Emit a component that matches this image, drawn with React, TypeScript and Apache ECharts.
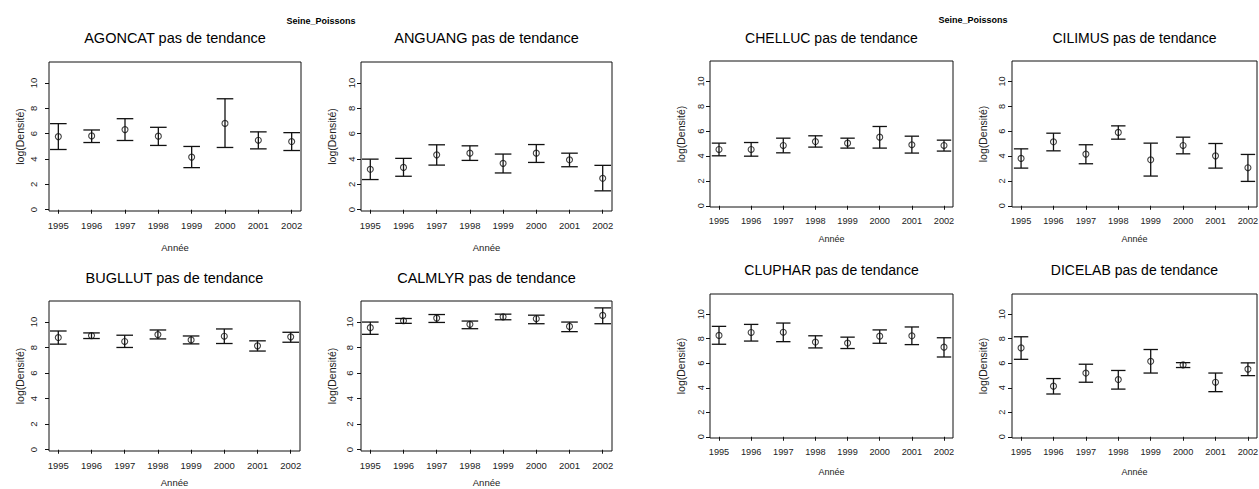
import { useEffect, useRef } from "react";
import * as echarts from "echarts";

// Survey years and y-axis ticks shared by every panel
const YEARS = [1995, 1996, 1997, 1998, 1999, 2000, 2001, 2002];
const Y_TICKS = [0, 2, 4, 6, 8, 10];
const SUPTITLE = "Seine_Poissons";
const TREND = "pas de tendance";
const X_NAME = "Année";
const Y_NAME = "log(Densité)";

// Mean log density with lower / upper interval bounds, per species
const AGONCAT_MEAN = [5.77, 5.82, 6.32, 5.8, 4.15, 6.81, 5.48, 5.38];
const AGONCAT_LOW = [4.75, 5.3, 5.46, 5.07, 3.32, 4.91, 4.8, 4.67];
const AGONCAT_HIGH = [6.79, 6.29, 7.18, 6.5, 4.99, 8.75, 6.14, 6.08];

const ANGUANG_MEAN = [3.19, 3.34, 4.33, 4.46, 3.66, 4.46, 3.94, 2.48];
const ANGUANG_LOW = [2.38, 2.64, 3.52, 3.89, 2.9, 3.73, 3.39, 1.49];
const ANGUANG_HIGH = [3.99, 4.05, 5.12, 5.04, 4.39, 5.14, 4.46, 3.5];

const BUGLLUT_MEAN = [8.79, 8.94, 8.48, 9.02, 8.6, 8.89, 8.14, 8.84];
const BUGLLUT_LOW = [8.27, 8.71, 8.01, 8.68, 8.29, 8.32, 7.73, 8.42];
const BUGLLUT_HIGH = [9.3, 9.15, 8.97, 9.38, 8.91, 9.46, 8.53, 9.2];

const CALMLYR_MEAN = [9.56, 10.1, 10.31, 9.82, 10.41, 10.26, 9.66, 10.52];
const CALMLYR_LOW = [9.04, 9.9, 9.97, 9.48, 10.18, 9.87, 9.25, 9.87];
const CALMLYR_HIGH = [10.0, 10.28, 10.59, 10.08, 10.62, 10.54, 10.0, 11.11];

const CHELLUC_MEAN = [4.53, 4.53, 4.85, 5.17, 5.04, 5.52, 4.91, 4.85];
const CHELLUC_LOW = [4.02, 3.99, 4.26, 4.72, 4.64, 4.64, 4.24, 4.4];
const CHELLUC_HIGH = [5.04, 5.09, 5.44, 5.63, 5.44, 6.38, 5.6, 5.28];

const CILIMUS_MEAN = [3.81, 5.15, 4.16, 5.9, 3.7, 4.85, 4.02, 3.06];
const CILIMUS_LOW = [3.03, 4.42, 3.38, 5.36, 2.39, 4.18, 3.03, 1.96];
const CILIMUS_HIGH = [4.58, 5.84, 4.91, 6.43, 5.04, 5.52, 5.01, 4.13];

const CLUPHAR_MEAN = [8.27, 8.51, 8.53, 7.73, 7.65, 8.21, 8.24, 7.31];
const CLUPHAR_LOW = [7.55, 7.81, 7.76, 7.25, 7.2, 7.63, 7.52, 6.51];
const CLUPHAR_HIGH = [9.01, 9.17, 9.28, 8.24, 8.13, 8.72, 8.96, 8.08];

const DICELAB_MEAN = [7.25, 4.13, 5.2, 4.67, 6.16, 5.87, 4.45, 5.52];
const DICELAB_LOW = [6.32, 3.49, 4.45, 3.89, 5.2, 5.65, 3.68, 4.99];
const DICELAB_HIGH = [8.16, 4.75, 5.92, 5.41, 7.12, 6.05, 5.2, 6.03];

const SPECIES = [
  { code: "AGONCAT", mean: AGONCAT_MEAN, low: AGONCAT_LOW, high: AGONCAT_HIGH },
  { code: "ANGUANG", mean: ANGUANG_MEAN, low: ANGUANG_LOW, high: ANGUANG_HIGH },
  { code: "BUGLLUT", mean: BUGLLUT_MEAN, low: BUGLLUT_LOW, high: BUGLLUT_HIGH },
  { code: "CALMLYR", mean: CALMLYR_MEAN, low: CALMLYR_LOW, high: CALMLYR_HIGH },
  { code: "CHELLUC", mean: CHELLUC_MEAN, low: CHELLUC_LOW, high: CHELLUC_HIGH },
  { code: "CILIMUS", mean: CILIMUS_MEAN, low: CILIMUS_LOW, high: CILIMUS_HIGH },
  { code: "CLUPHAR", mean: CLUPHAR_MEAN, low: CLUPHAR_LOW, high: CLUPHAR_HIGH },
  { code: "DICELAB", mean: DICELAB_MEAN, low: DICELAB_LOW, high: DICELAB_HIGH },
];

// Panel boxes and text tuning (two 2x2 sheets side by side)
const LEFT_SHEET = { title: 14.5, tick: 9.5, xName: 9.5, yName: 10.5, cap: 8.3 };
const RIGHT_SHEET = { title: 14, tick: 9.2, xName: 9, yName: 10.5, cap: 7.2 };
const PANEL_LAYOUT = [
  { left: 49, top: 62, width: 252, height: 149, labelMargin: 11, xNameGap: 31, titleY: 38, sheet: LEFT_SHEET },
  { left: 361, top: 62, width: 251, height: 149, labelMargin: 5, xNameGap: 31, titleY: 38, sheet: LEFT_SHEET },
  { left: 49, top: 301, width: 251, height: 150, labelMargin: 11, xNameGap: 26, titleY: 278, sheet: LEFT_SHEET },
  { left: 361, top: 301, width: 251, height: 150, labelMargin: 7, xNameGap: 26, titleY: 278, sheet: LEFT_SHEET },
  { left: 710, top: 61, width: 243, height: 146, labelMargin: 5, xNameGap: 27, titleY: 38, sheet: RIGHT_SHEET },
  { left: 1012, top: 61, width: 245, height: 146, labelMargin: 6, xNameGap: 27, titleY: 38, sheet: RIGHT_SHEET },
  { left: 710, top: 294, width: 243, height: 144, labelMargin: 5, xNameGap: 29, titleY: 270, sheet: RIGHT_SHEET },
  { left: 1012, top: 294, width: 245, height: 144, labelMargin: 6, xNameGap: 29, titleY: 270, sheet: RIGHT_SHEET },
];
const SUPTITLE_POS = [
  { x: 321, y: 21 },
  { x: 973, y: 20 },
];

const FONT = "'Liberation Sans', Arial, Helvetica, sans-serif";
const INK = "#111";

function buildOption() {
  const grid: any[] = [];
  const xAxis: any[] = [];
  const yAxis: any[] = [];
  const series: any[] = [];
  const graphic: any[] = [];

  SPECIES.forEach((sp, i) => {
    const L = PANEL_LAYOUT[i];
    const S = L.sheet;
    grid.push({
      left: L.left,
      top: L.top,
      width: L.width,
      height: L.height,
      show: true,
      borderColor: INK,
      borderWidth: 1,
      backgroundColor: "transparent",
      containLabel: false,
      outerBoundsMode: "none",
    });
    xAxis.push({
      type: "value",
      gridIndex: i,
      min: 1994.72,
      max: 2002.28,
      axisLine: { show: false },
      splitLine: { show: false },
      axisTick: { show: true, customValues: YEARS, length: 4, lineStyle: { color: INK, width: 1 } },
      axisLabel: {
        customValues: YEARS,
        formatter: (v: number) => String(v),
        margin: 9,
        fontSize: S.tick,
        fontFamily: FONT,
        color: "#222",
      },
      name: X_NAME,
      nameLocation: "middle",
      nameGap: L.xNameGap,
      nameMoveOverlap: false,
      nameTextStyle: { fontSize: S.xName, fontFamily: FONT, color: "#222" },
    });
    yAxis.push({
      type: "value",
      gridIndex: i,
      min: -0.1,
      max: 11.65,
      axisLine: { show: false },
      splitLine: { show: false },
      axisTick: { show: true, customValues: Y_TICKS, length: 4, lineStyle: { color: INK, width: 1 } },
      axisLabel: {
        customValues: Y_TICKS,
        rotate: 90,
        margin: L.labelMargin,
        fontSize: S.tick,
        fontFamily: FONT,
        color: "#222",
      },
      name: Y_NAME,
      nameLocation: "middle",
      nameGap: 24,
      nameMoveOverlap: false,
      nameTextStyle: { fontSize: S.yName, fontFamily: FONT, color: "#222" },
    });

    const capHalf = S.cap;
    series.push({
      type: "custom",
      xAxisIndex: i,
      yAxisIndex: i,
      silent: true,
      data: YEARS.map((yr, k) => [yr, sp.low[k], sp.high[k]]),
      encode: { x: 0, y: [1, 2] },
      renderItem: (_params: any, api: any) => {
        const x = api.value(0);
        const lo = api.coord([x, api.value(1)]);
        const hi = api.coord([x, api.value(2)]);
        const style = { stroke: INK, lineWidth: 1.3 };
        return {
          type: "group",
          children: [
            { type: "line", shape: { x1: lo[0], y1: lo[1], x2: hi[0], y2: hi[1] }, style },
            { type: "line", shape: { x1: lo[0] - capHalf, y1: lo[1], x2: lo[0] + capHalf, y2: lo[1] }, style },
            { type: "line", shape: { x1: hi[0] - capHalf, y1: hi[1], x2: hi[0] + capHalf, y2: hi[1] }, style },
          ],
        };
      },
    });
    series.push({
      type: "scatter",
      xAxisIndex: i,
      yAxisIndex: i,
      silent: true,
      symbol: "circle",
      symbolSize: 6,
      itemStyle: { color: "rgba(0,0,0,0)", borderColor: INK, borderWidth: 1.1 },
      data: YEARS.map((yr, k) => [yr, sp.mean[k]]),
    });

    graphic.push({
      type: "text",
      x: L.left + L.width / 2,
      y: L.titleY,
      silent: true,
      style: {
        text: `${sp.code} ${TREND}`,
        fontSize: S.title,
        fontFamily: FONT,
        fill: "#000",
        align: "center",
        verticalAlign: "middle",
      },
    });
  });

  SUPTITLE_POS.forEach((p) => {
    graphic.push({
      type: "text",
      x: p.x,
      y: p.y,
      silent: true,
      style: {
        text: SUPTITLE,
        fontSize: 9,
        fontWeight: "bold",
        fontFamily: FONT,
        fill: "#000",
        align: "center",
        verticalAlign: "middle",
      },
    });
  });

  return {
    animation: false,
    backgroundColor: "#fff",
    grid,
    xAxis,
    yAxis,
    series,
    graphic,
  };
}

export default function App() {
  const ref = useRef<HTMLDivElement>(null);

  useEffect(() => {
    if (!ref.current) return;
    const chart = echarts.init(ref.current, undefined, { renderer: "svg" });
    chart.setOption(buildOption() as any);
    return () => chart.dispose();
  }, []);

  return (
    <div
      ref={ref}
      style={{ position: "fixed", left: 0, top: 0, width: 1259, height: 489, background: "#fff" }}
    />
  );
}
